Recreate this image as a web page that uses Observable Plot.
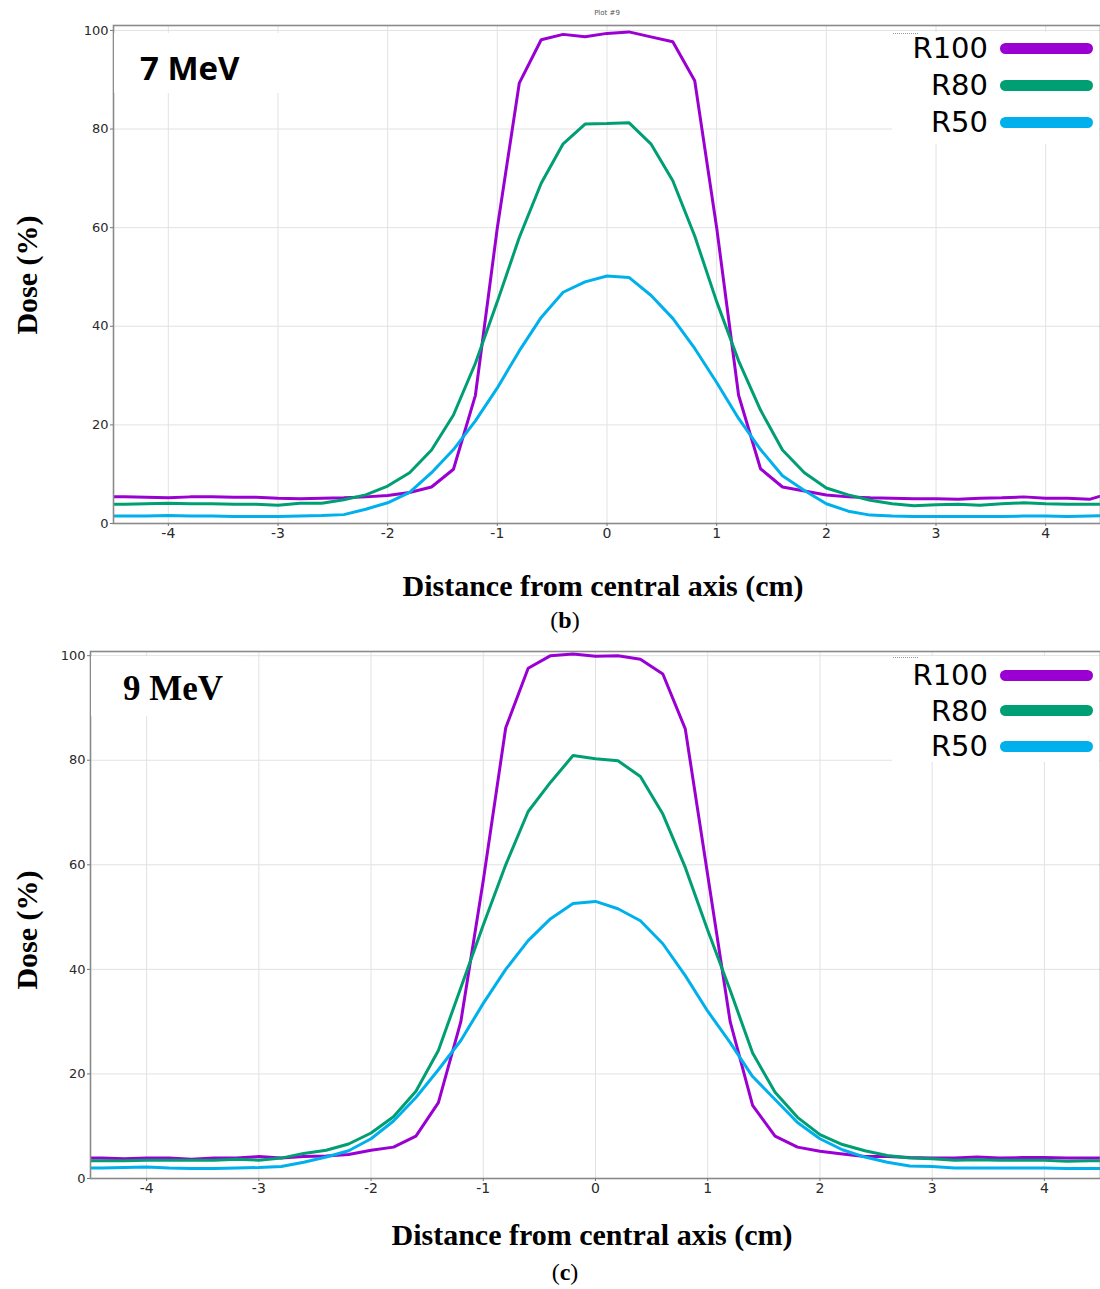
<!DOCTYPE html>
<html>
<head>
<meta charset="utf-8">
<script src="https://cdn.jsdelivr.net/npm/d3@7"></script>
<script src="https://cdn.jsdelivr.net/npm/@observablehq/plot@0.6"></script>
<style>
  html, body { margin: 0; padding: 0; background: #fff; }
  #wrap { position: relative; width: 1100px; height: 1289px; overflow: hidden; background: #fff; }
  .abs { position: absolute; }
  .serifb { font-family: "Liberation Serif", "Times New Roman", serif; font-weight: bold; color: #000; white-space: nowrap; }
  .serif { font-family: "Liberation Serif", "Times New Roman", serif; color: #000; white-space: nowrap; }
  .box { background: #fff; }
  .legrow { position: absolute; height: 36px; display: flex; align-items: center; }
  .legtext { font-family: "DejaVu Sans", sans-serif; font-size: 29px; color: #000; text-align: right; width: 120px; }
  .legline { height: 11px; border-radius: 6px; margin-left: 12px; }
  .vtitle { transform: translate(-50%, -50%) rotate(-90deg); font-size: 30px; }
  .ctr { transform: translate(-50%, -50%); }
</style>
</head>
<body>
<div id="wrap"></div>
<script>
// ---- data ----
const series = ["R100", "R80", "R50"];
const colors = ["#9b00d3", "#009e73", "#00b0ec"];
const xTicks = [-4, -3, -2, -1, 0, 1, 2, 3, 4];
const yTicks = [0, 20, 40, 60, 80, 100];
const xPos = [-4.6, -4.4, -4.2, -4.0, -3.8, -3.6, -3.4, -3.2, -3.0, -2.8, -2.6, -2.4, -2.2, -2.0, -1.8, -1.6,
  -1.4, -1.2, -1.0, -0.8, -0.6, -0.4, -0.2, 0, 0.2, 0.4, 0.6, 0.8, 1.0, 1.2, 1.4, 1.6,
  1.8, 2.0, 2.2, 2.4, 2.6, 2.8, 3.0, 3.2, 3.4, 3.6, 3.8, 4.0, 4.2, 4.4, 4.6];

// 7 MeV
const r100_7 = [5.4, 5.4, 5.3, 5.2, 5.4, 5.4, 5.3, 5.3, 5.1, 5.0, 5.1, 5.2, 5.4, 5.7, 6.3, 7.4,
  11.0, 26, 60, 89.3, 98.1, 99.2, 98.7, 99.4, 99.7, 98.7, 97.7, 89.8, 60, 26, 11.1, 7.4,
  6.6, 5.8, 5.4, 5.2, 5.1, 5.0, 5.0, 4.9, 5.1, 5.2, 5.4, 5.1, 5.1, 4.9, 6.2];
const r80_7 = [3.9, 3.9, 4.0, 4.1, 4.0, 4.0, 3.9, 3.9, 3.7, 4.1, 4.1, 4.8, 5.8, 7.6, 10.3, 14.9,
  22.0, 32.5, 45, 58, 69, 77, 81.0, 81.1, 81.3, 77, 69.5, 58.3, 45, 33, 23, 14.9,
  10.3, 7.2, 5.8, 4.7, 4.0, 3.6, 3.8, 3.9, 3.7, 4.0, 4.2, 4.0, 3.9, 3.9, 3.9];
const r50_7 = [1.5, 1.5, 1.5, 1.6, 1.5, 1.5, 1.4, 1.4, 1.4, 1.5, 1.6, 1.8, 2.9, 4.2, 6.3, 10.3,
  15.0, 20.8, 27.5, 35, 41.8, 46.9, 49.0, 50.2, 49.9, 46.3, 41.6, 35.5, 28.6, 21.3, 15.0, 9.7,
  6.7, 4.0, 2.5, 1.7, 1.5, 1.4, 1.4, 1.4, 1.4, 1.4, 1.5, 1.5, 1.4, 1.5, 1.6];

// 9 MeV
const r100_9 = [3.9, 3.9, 3.8, 3.9, 3.9, 3.7, 3.9, 3.9, 4.2, 3.9, 4.2, 4.3, 4.6, 5.4, 6.0, 8.1,
  14.5, 30, 57, 86.2, 97.6, 100, 100.3, 99.9, 100, 99.3, 96.5, 86, 58, 30, 14, 8.1,
  6.0, 5.2, 4.7, 4.2, 4.2, 4.0, 3.9, 3.9, 4.1, 3.9, 4.0, 4.0, 3.9, 3.9, 3.9];
const r80_9 = [3.4, 3.4, 3.4, 3.5, 3.5, 3.5, 3.5, 3.7, 3.5, 3.9, 4.8, 5.4, 6.6, 8.7, 11.8, 16.7,
  24.5, 36.5, 48.5, 60, 70.2, 75.8, 80.9, 80.3, 79.9, 76.9, 69.7, 59.5, 47.5, 36, 24, 16.5,
  11.7, 8.4, 6.5, 5.3, 4.4, 3.9, 3.8, 3.5, 3.6, 3.5, 3.5, 3.5, 3.3, 3.4, 3.4];
const r50_9 = [2.0, 2.0, 2.1, 2.2, 2.0, 1.9, 1.9, 2.0, 2.1, 2.3, 3.1, 4.1, 5.3, 7.6, 11.0, 15.5,
  20.8, 26.4, 33.5, 40, 45.5, 49.7, 52.6, 53.0, 51.6, 49.3, 44.9, 38.8, 32, 26, 19.5, 15.1,
  10.7, 7.6, 5.5, 4.1, 3.1, 2.4, 2.3, 2.0, 2.0, 2.0, 2.0, 2.0, 1.9, 1.9, 1.9];

const panels = [
  {energy: "7 MeV", tag: "(b)", vals: [r100_7, r80_7, r50_7]},
  {energy: "9 MeV", tag: "(c)", vals: [r100_9, r80_9, r50_9]}
];

// ---- drawing ----
const wrap = document.getElementById("wrap");

function el(html) {
  const t = document.createElement("div");
  t.innerHTML = html.trim();
  const n = t.firstChild;
  wrap.appendChild(n);
  return n;
}

function makeChart(vals, opt) {
  const rows = [];
  series.forEach((s, i) => xPos.forEach((x, j) => rows.push({x, dose: vals[i][j], series: s})));
  return Plot.plot({
    width: 1100,
    height: opt.height,
    marginTop: 25,
    marginBottom: 22,
    marginLeft: opt.marginLeft,
    marginRight: 0,
    style: {fontFamily: "DejaVu Sans, sans-serif", fontSize: "13px", color: "#2a2a2a", background: "transparent", overflow: "visible"},
    x: {domain: [-4.5, 4.5], label: null},
    y: {domain: [0, opt.yMax], label: null},
    color: {domain: series, range: colors},
    marks: [
      Plot.gridX(xTicks, {stroke: "#e2e2e2", strokeOpacity: 1, strokeWidth: 1}),
      Plot.gridY(yTicks, {stroke: "#e2e2e2", strokeOpacity: 1, strokeWidth: 1}),
      Plot.line(rows, {x: "x", y: "dose", z: "series", stroke: "series", strokeWidth: 3, clip: true, strokeLinejoin: "miter"}),
      Plot.frame({stroke: "#8a8a8a", strokeWidth: 1.6}),
      Plot.axisX(xTicks, {label: null, tickSize: 3, tickPadding: 2, fontSize: 14, tickFormat: d => String(d), stroke: "#777"}),
      Plot.axisY(yTicks, {label: null, tickSize: 3, tickPadding: 2, fontSize: 13, tickFormat: d => String(d), stroke: "#777"})
    ]
  });
}

// Layout constants per panel (pixel positions of the page)
const layout = [
  {top: 0, height: 545, marginLeft: 113, yMax: 101.0,
   titleBox: [114, 33, 216, 60], energyCls: "sans", energyX: 140, energyY: 67,
   legendTop: 30, legendStep: 37, legendBox: [892, 32, 207, 112],
   xTitleX: 603, xTitleY: 586, tagY: 620, yTitleY: 275},
  {top: 626, height: 574, marginLeft: 90, yMax: 100.8,
   titleBox: [91, 656, 150, 60], energyCls: "serif", energyX: 123, energyY: 688,
   legendTop: 657, legendStep: 35.5, legendBox: [892, 656, 207, 106],
   xTitleX: 592, xTitleY: 1235, tagY: 1272, yTitleY: 930}
];

panels.forEach((p, k) => {
  const L = layout[k];
  const svg = makeChart(p.vals, L);
  svg.style.position = "absolute";
  svg.style.left = "0px";
  svg.style.top = L.top + "px";
  wrap.appendChild(svg);

  // white box behind energy label
  const tb = L.titleBox;
  el(`<div class="abs box" style="left:${tb[0]}px;top:${tb[1]}px;width:${tb[2]}px;height:${tb[3]}px"></div>`);
  if (L.energyCls === "sans") {
    el(`<div class="abs" style="left:${L.energyX}px;top:${L.energyY}px;transform:translate(0,-50%);font-family:'Open Sans',sans-serif;font-weight:700;font-size:33px;line-height:1;color:#000;white-space:nowrap">${p.energy}</div>`);
  } else {
    el(`<div class="abs serifb" style="left:${L.energyX}px;top:${L.energyY}px;transform:translate(0,-50%);font-size:35px;line-height:1">${p.energy}</div>`);
  }

  // legend
  const lb = L.legendBox;
  el(`<div class="abs box" style="left:${lb[0]}px;top:${lb[1]}px;width:${lb[2]}px;height:${lb[3]}px"></div>`);
  el(`<div class="abs" style="left:${lb[0] + 1}px;top:${lb[1] + 1}px;width:25px;border-top:1px dotted #999"></div>`);
  series.forEach((s, i) => {
    el(`<div class="legrow" style="left:868px;top:${L.legendTop + i * L.legendStep}px">
          <div class="legtext">${s}</div>
          <div class="legline" style="width:93px;background:${colors[i]}"></div>
        </div>`);
  });

  // axis titles and tag
  el(`<div class="abs serifb ctr" style="left:${L.xTitleX}px;top:${L.xTitleY}px;font-size:30px;line-height:1">Distance from central axis (cm)</div>`);
  el(`<div class="abs serifb vtitle" style="left:27px;top:${L.yTitleY}px;line-height:1">Dose (%)</div>`);
  el(`<div class="abs serif ctr" style="left:565px;top:${L.tagY}px;font-size:24px;line-height:1">${p.tag.replace(/([bc])/, '<b>$1</b>')}</div>`);
});

el(`<div class="abs ctr" style="left:607px;top:13px;font-family:'DejaVu Sans',sans-serif;font-size:7px;color:#555">Plot #9</div>`);
</script>
</body>
</html>
